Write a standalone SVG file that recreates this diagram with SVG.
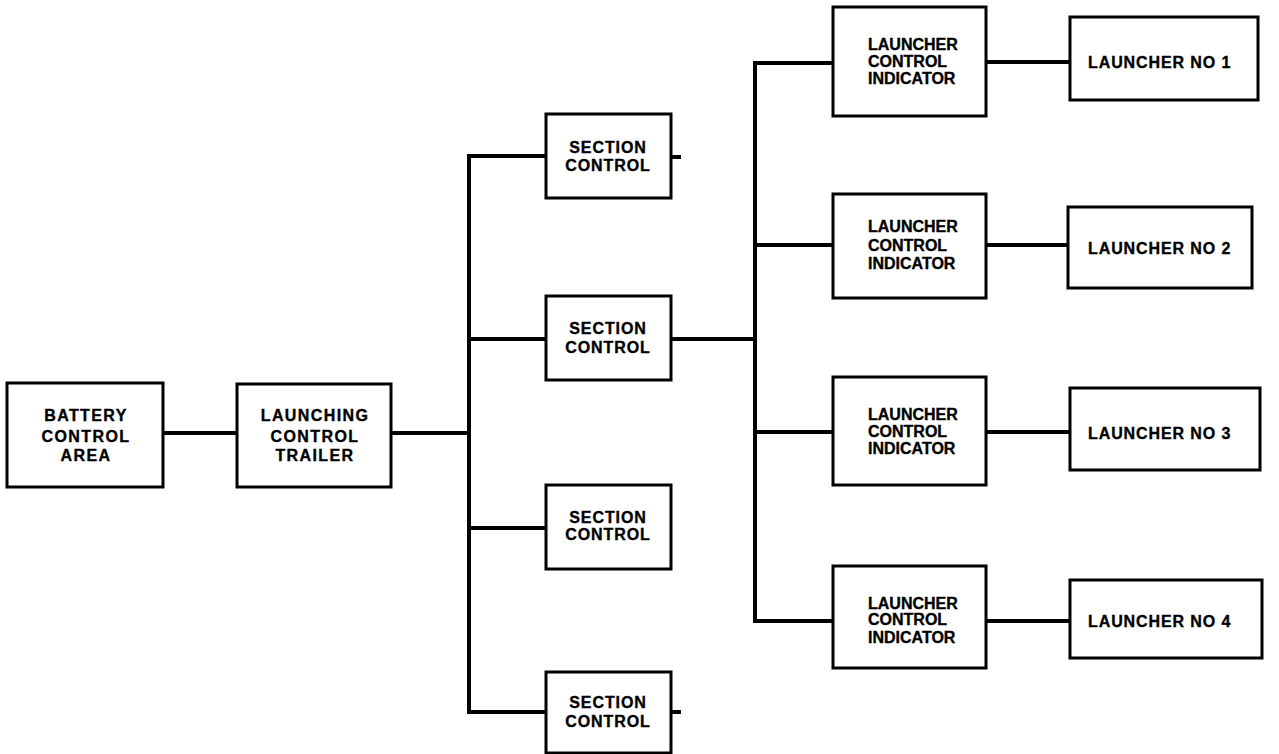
<svg xmlns="http://www.w3.org/2000/svg" width="1279" height="754" viewBox="0 0 1279 754">
<style>
.box{fill:#fff;stroke:#000;stroke-width:3}
.ln{fill:none;stroke:#000;stroke-width:4;stroke-linecap:square}
text{font-family:"Liberation Sans",Arial,sans-serif;font-weight:bold;font-size:16px;fill:#000;stroke:#000;stroke-width:0.35}
.c{text-anchor:middle;letter-spacing:1.4px}
.s{text-anchor:middle;letter-spacing:0.9px}
.l{letter-spacing:0px}
.n{letter-spacing:0.9px}
</style>
<rect width="1279" height="754" fill="#fff"/>
<g id="connectors">
<path class="ln" d="M163 433H237"/>
<path class="ln" d="M391 433H469"/>
<path class="ln" d="M546 156H469V712H546"/>
<path class="ln" d="M469 339H546"/>
<path class="ln" d="M469 528H546"/>
<path class="ln" d="M671 157H679"/>
<path class="ln" d="M671 712H679"/>
<path class="ln" d="M671 339H755"/>
<path class="ln" d="M833 63H755V621H833"/>
<path class="ln" d="M755 245H833"/>
<path class="ln" d="M755 432H833"/>
<path class="ln" d="M986 62H1070"/>
<path class="ln" d="M986 245H1068"/>
<path class="ln" d="M986 432H1070"/>
<path class="ln" d="M986 621H1070"/>
</g>
<g id="battery">
<rect class="box" x="7" y="383" width="156" height="104"/>
<text class="c" x="86" y="421">BATTERY</text>
<text class="c" x="86" y="442">CONTROL</text>
<text class="c" x="86" y="461">AREA</text>
</g>
<g id="launching">
<rect class="box" x="237" y="384" width="154" height="103"/>
<text class="c" x="315" y="421">LAUNCHING</text>
<text class="c" x="315" y="442">CONTROL</text>
<text class="c" x="315" y="461">TRAILER</text>
</g>
<g id="sc1">
<rect class="box" x="546" y="114" width="125" height="84"/>
<text class="s" x="608" y="152.5">SECTION</text>
<text class="s" x="608" y="171">CONTROL</text>
</g>
<g id="sc2">
<rect class="box" x="546" y="296" width="125" height="84"/>
<text class="s" x="608" y="334">SECTION</text>
<text class="s" x="608" y="352.5">CONTROL</text>
</g>
<g id="sc3">
<rect class="box" x="546" y="485" width="125" height="84"/>
<text class="s" x="608" y="523">SECTION</text>
<text class="s" x="608" y="539.5">CONTROL</text>
</g>
<g id="sc4">
<rect class="box" x="546" y="672" width="125" height="81"/>
<text class="s" x="608" y="708">SECTION</text>
<text class="s" x="608" y="726.5">CONTROL</text>
</g>
<g id="lci1">
<rect class="box" x="833" y="7" width="153" height="109"/>
<text class="l" x="868" y="50">LAUNCHER</text>
<text class="l" x="868" y="66.5">CONTROL</text>
<text class="l" x="868" y="84">INDICATOR</text>
</g>
<g id="lci2">
<rect class="box" x="833" y="194" width="153" height="104"/>
<text class="l" x="868" y="231.5">LAUNCHER</text>
<text class="l" x="868" y="250.5">CONTROL</text>
<text class="l" x="868" y="268.5">INDICATOR</text>
</g>
<g id="lci3">
<rect class="box" x="833" y="377" width="153" height="108"/>
<text class="l" x="868" y="420">LAUNCHER</text>
<text class="l" x="868" y="436.5">CONTROL</text>
<text class="l" x="868" y="454">INDICATOR</text>
</g>
<g id="lci4">
<rect class="box" x="833" y="566" width="153" height="102"/>
<text class="l" x="868" y="608.5">LAUNCHER</text>
<text class="l" x="868" y="625">CONTROL</text>
<text class="l" x="868" y="642.5">INDICATOR</text>
</g>
<g id="launcher1">
<rect class="box" x="1070" y="17" width="188" height="83"/>
<text class="n" x="1088" y="68">LAUNCHER NO 1</text>
</g>
<g id="launcher2">
<rect class="box" x="1068" y="207" width="184" height="81"/>
<text class="n" x="1088" y="253.5">LAUNCHER NO 2</text>
</g>
<g id="launcher3">
<rect class="box" x="1070" y="388" width="190" height="82"/>
<text class="n" x="1088" y="439">LAUNCHER NO 3</text>
</g>
<g id="launcher4">
<rect class="box" x="1070" y="580" width="192" height="78"/>
<text class="n" x="1088" y="626.5">LAUNCHER NO 4</text>
</g>
</svg>
